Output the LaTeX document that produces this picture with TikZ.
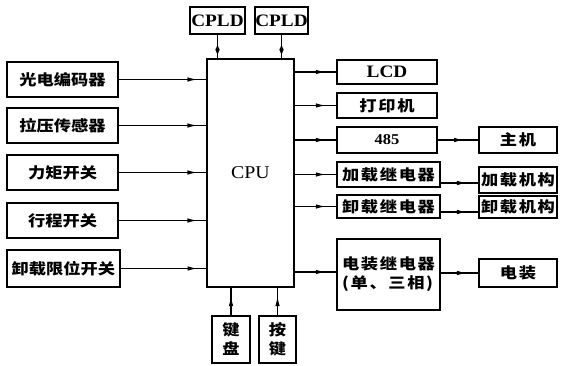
\documentclass[tikz,border=0pt]{standalone}
\usepackage{fontspec}
\setmainfont{Liberation Serif}[FakeStretch=1.1]
\newfontfamily\cjk{Noto Sans CJK SC}[FakeStretch=1.15]
\newfontfamily\cjksp{Noto Sans CJK SC}[FakeStretch=1.15,LetterSpace=11]
\usetikzlibrary{arrows.meta,decorations.markings}
\tikzset{
  box/.style={draw,line width=1.6pt,inner sep=0pt,font=\fontsize{15}{19}\selectfont\cjk\bfseries},
  rbox/.style={box,font=\fontsize{15}{19}\selectfont\cjksp\bfseries},
  lat/.style={box,font=\fontsize{17.5}{20}\selectfont\bfseries},
  conn/.style={line width=1.3pt},
  ar/.style={conn,decoration={markings,mark=at position #1 with {\arrow{Latex[length=10pt,width=4.5pt]}}},postaction={decorate}},
  dbl/.style={conn,decoration={markings,
     mark=at position 21pt with {\arrow{Latex[length=6pt,width=4.5pt]}},
     mark=at position 9pt with {\arrowreversed{Latex[length=6pt,width=4.5pt]}}},postaction={decorate}}
}
\begin{document}
\begin{tikzpicture}[x=1pt,y=-1pt]
\useasboundingbox (0,0) rectangle (562,366);
% CPU and CPLD
\node[lat,font=\fontsize{18}{20}\selectfont,minimum width=87pt,minimum height=228pt] (cpu) at (250.5,173) {CPU};
\node[lat,minimum width=55pt,minimum height=27pt] (cpld1) at (217.5,20.5) {CPLD};
\node[lat,minimum width=53pt,minimum height=27pt] (cpld2) at (281.5,20.5) {CPLD};
% left inputs
\node[box,minimum width=111pt,minimum height=35pt] (gd) at (62.5,79.5) {光电编码器};
\node[box,minimum width=111pt,minimum height=35pt] (ly) at (62.5,125.5) {拉压传感器};
\node[box,minimum width=111pt,minimum height=35pt] (lj) at (62.5,172.5) {力矩开关};
\node[box,minimum width=111pt,minimum height=35pt] (xc) at (62.5,220.5) {行程开关};
\node[box,minimum width=113pt,minimum height=37pt] (xw) at (63.5,268.5) {卸载限位开关};
% right outputs
\node[lat,minimum width=100pt,minimum height=24pt] (lcd) at (387,72) {LCD};
\node[rbox,minimum width=100pt,minimum height=25pt] (dy) at (387,105.5) {打印机};
\node[lat,font=\fontsize{15}{18}\selectfont\bfseries,minimum width=100pt,minimum height=26pt] (r485) at (387,140) {485};
\node[rbox,minimum width=103pt,minimum height=25pt] (jz) at (388.5,174.5) {加载继电器};
\node[rbox,minimum width=103pt,minimum height=23pt] (xz) at (388.5,206.5) {卸载继电器};
\node[rbox,minimum width=103pt,minimum height=71pt,align=left] (dz) at (388.5,274.5) {电装继电器\\(单、三相)};
% far right
\node[rbox,minimum width=78pt,minimum height=26pt] (zj) at (518,140) {主机};
\node[rbox,minimum width=78pt,minimum height=26pt] (jg) at (518,180) {加载机构};
\node[rbox,minimum width=78pt,minimum height=22pt] (xg) at (518,207) {卸载机构};
\node[rbox,minimum width=78pt,minimum height=28pt] (dzh) at (518,273) {电装};
% keyboard
\node[box,minimum width=38pt,minimum height=47pt,align=center] (jp) at (231,339.5) {键\\盘};
\node[box,minimum width=37pt,minimum height=47pt,align=center] (aj) at (277.5,339.5) {按\\键};
% connectors
\foreach \n in {gd,ly,lj,xc,xw}
  \draw[ar=0.9] (\n.east) -- (cpu.west |- \n.east);
\foreach \n in {lcd,dy,r485,jz,xz}
  \draw[ar=0.75] (cpu.east |- \n.west) -- (\n.west);
\draw[ar=0.75] (cpu.east |- 0,272) -- (dz.west |- 0,272);
\draw[ar=0.65] (r485.east) -- (zj.west);
\draw[ar=0.7] (jz.east |- 0,183) -- (jg.west |- 0,183);
\draw[ar=0.7] (xz.east |- 0,212) -- (xg.west |- 0,212);
\draw[ar=0.7] (dz.east |- 0,273) -- (dzh.west |- 0,273);
\draw[dbl] (cpld1.south) -- (cpld1.south |- cpu.north);
\draw[dbl] (cpld2.south) -- (cpld2.south |- cpu.north);
\draw[ar=0.7] (jp.north) -- (jp.north |- cpu.south);
\draw[ar=0.7] (aj.north) -- (aj.north |- cpu.south);
\end{tikzpicture}
\end{document}
